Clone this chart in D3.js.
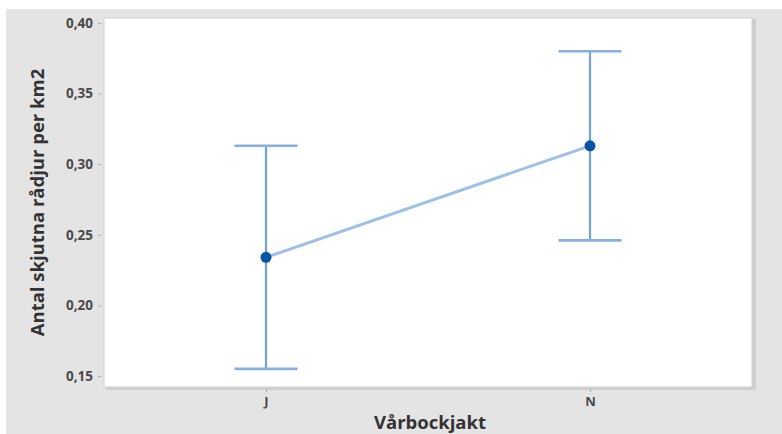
<!DOCTYPE html>
<html><head><meta charset="utf-8">
<script src="https://cdn.jsdelivr.net/npm/d3@7"></script>
<style>body{margin:0;background:#fff;} svg{display:block;}</style>
</head><body>
<script>
const categories = ["J", "N"];
const means = [0.234, 0.313];
const lower = [0.155, 0.246];
const upper = [0.313, 0.380];
const yTicks = [0.15, 0.20, 0.25, 0.30, 0.35, 0.40];
const xTitle = "Vårbockjakt";
const yTitle = "Antal skjutna rådjur per km2";

const W = 782, H = 434;
const svg = d3.select("body").append("svg").attr("width", W).attr("height", H);
svg.append("rect").attr("x", 6).attr("y", 9).attr("width", W - 6).attr("height", H - 9).attr("fill", "#e4e4e4");

const plot = {left: 104, top: 18, right: 752, bottom: 387};
svg.append("rect").attr("x", plot.left + 2).attr("y", plot.top + 1).attr("width", plot.right - plot.left + 2).attr("height", plot.bottom - plot.top + 2).attr("fill", "#cfcfcf");
svg.append("rect").attr("x", plot.left).attr("y", plot.top).attr("width", plot.right - plot.left).attr("height", plot.bottom - plot.top).attr("fill", "#fff").attr("stroke", "#d0d0d0").attr("stroke-width", 1);

const x = d3.scalePoint().domain(categories).range([plot.left, plot.right]).padding(0.5);
const y = d3.scaleLinear().domain([0.1422, 0.4035]).range([plot.bottom, plot.top]);

const fmt = d => d3.format(".2f")(d).replace(".", ",");
const yAxis = svg.append("g").attr("transform", `translate(${plot.left - 3},0)`)
  .call(d3.axisLeft(y).tickValues(yTicks).tickFormat(fmt).tickSize(3).tickPadding(5));
yAxis.select(".domain").remove();
yAxis.selectAll("line").attr("stroke", "#aaa");
yAxis.selectAll("text").attr("fill", "#4a4a4a").style("font-family", "'Open Sans', sans-serif").style("font-weight", 700).style("font-size", "13.5px");

const xAxis = svg.append("g").attr("transform", `translate(0,${plot.bottom + 2})`)
  .call(d3.axisBottom(x).tickSize(3).tickPadding(5));
xAxis.select(".domain").remove();
xAxis.selectAll("line").attr("stroke", "#aaa");
xAxis.selectAll("text").attr("fill", "#4a4a4a").style("font-family", "'Open Sans', sans-serif").style("font-weight", 700).style("font-size", "13px");

const data = categories.map((c, i) => ({c, m: means[i], lo: lower[i], hi: upper[i]}));
const capW = 31.5;
const eb = svg.append("g").attr("stroke", "#6fa2d8").attr("stroke-width", 2.2).attr("fill", "none");
data.forEach(d => {
  const cx = x(d.c);
  eb.append("line").attr("x1", cx).attr("x2", cx).attr("y1", y(d.hi)).attr("y2", y(d.lo));
  eb.append("line").attr("x1", cx - capW).attr("x2", cx + capW).attr("y1", y(d.hi)).attr("y2", y(d.hi)).attr("stroke", "#86b0e0").attr("stroke-width", 2.6);
  eb.append("line").attr("x1", cx - capW).attr("x2", cx + capW).attr("y1", y(d.lo)).attr("y2", y(d.lo)).attr("stroke", "#86b0e0").attr("stroke-width", 2.6);
});

svg.append("path").datum(data)
  .attr("d", d3.line().x(d => x(d.c)).y(d => y(d.m)))
  .attr("fill", "none").attr("stroke", "#9cc0e6").attr("stroke-width", 3);

svg.selectAll("circle.pt").data(data).join("circle").attr("class", "pt")
  .attr("cx", d => x(d.c)).attr("cy", d => y(d.m)).attr("r", 5.5).attr("fill", "#0a54a8");

svg.append("text").attr("x", 430).attr("y", 429).attr("text-anchor", "middle")
  .attr("fill", "#333").style("font-family", "'Open Sans', sans-serif").style("font-weight", 700).style("font-size", "18.5px").text(xTitle);
svg.append("text").attr("transform", `translate(44,${(plot.top + plot.bottom) / 2}) rotate(-90)`).attr("text-anchor", "middle")
  .attr("fill", "#333").style("font-family", "'Open Sans', sans-serif").style("font-weight", 700).style("font-size", "18.5px").text(yTitle);
</script>
</body></html>
